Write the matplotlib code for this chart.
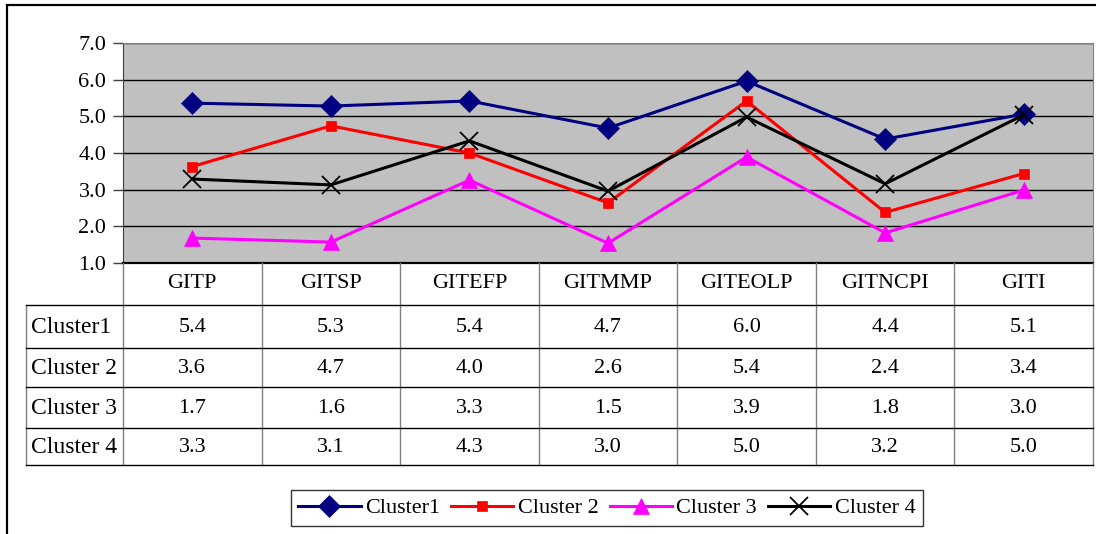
import numpy as np
import matplotlib.pyplot as plt
from matplotlib.lines import Line2D
from matplotlib.patches import Rectangle

plt.rcParams['font.family'] = ['Liberation Serif', 'DejaVu Serif']

categories = ['GITP', 'GITSP', 'GITEFP', 'GITMMP', 'GITEOLP', 'GITNCPI', 'GITI']
series_names = ['Cluster1', 'Cluster 2', 'Cluster 3', 'Cluster 4']
cluster1 = [5.36, 5.28, 5.42, 4.68, 5.96, 4.38, 5.06]
cluster2 = [3.63, 4.74, 4.00, 2.64, 5.42, 2.38, 3.44]
cluster3 = [1.68, 1.57, 3.26, 1.54, 3.89, 1.82, 2.99]
cluster4 = [3.29, 3.13, 4.33, 2.96, 4.98, 3.16, 5.04]
series_values = [cluster1, cluster2, cluster3, cluster4]
y_ticks = [1.0, 2.0, 3.0, 4.0, 5.0, 6.0, 7.0]

colors = ['#000080', '#FF0000', '#FF00FF', '#000000']
markers = ['D', 's', '^', 'x']
msizes = [11, 7, 12, 13]

W, H = 1096, 534
fig = plt.figure(figsize=(W / 100, H / 100), dpi=100)


def fx(x):
    return x / W


def fy(y):
    return 1 - y / H


# outer frame (cut off at right and bottom)
fig.add_artist(Rectangle((fx(7), fy(560)), fx(1120), fy(5) - fy(560), transform=fig.transFigure,
                         fill=False, edgecolor='black', lw=1.6))

x0, x1 = 123, 1093
ytop, ybot = 43, 263
ax = fig.add_axes([fx(x0), fy(ybot), fx(x1 - x0), fy(ytop) - fy(ybot)])
ax.set_facecolor('#C0C0C0')
x = np.arange(len(categories))
for name, vals, c, m, ms in zip(series_names, series_values, colors, markers, msizes):
    ax.plot(x, vals, color=c, lw=2.2, marker=m, ms=ms, mew=1.3 if m == 'x' else 0.5,
            mec=c, label=name, zorder=3)
ax.set_xlim(-0.5, len(categories) - 0.5)
ax.set_ylim(1.0, 7.0)
ax.set_yticks(y_ticks)
ax.set_yticklabels([f'{t:.1f}' for t in y_ticks], fontsize=16)
ax.set_xticks([])
ax.yaxis.grid(True, color='black', lw=1.0)
ax.set_axisbelow(True)
ax.tick_params(axis='y', length=7, width=1, color='#404040', pad=5)
for s in ['top', 'right']:
    ax.spines[s].set_color('#808080')
ax.spines['left'].set_color('#404040')
ax.spines['bottom'].set_color('black')
ax.spines['bottom'].set_linewidth(1.6)

# data table under the chart
colw = (x1 - x0) / len(categories)
row_edges = [263, 305, 348, 387, 428, 465]
lab_x0 = 26


def hline(y, xa, xb, color='black', lw=1.0):
    fig.add_artist(Line2D([fx(xa), fx(xb)], [fy(y), fy(y)], transform=fig.transFigure, color=color, lw=lw))


def vline(xp, ya, yb, color='#808080', lw=1.0):
    fig.add_artist(Line2D([fx(xp), fx(xp)], [fy(ya), fy(yb)], transform=fig.transFigure, color=color, lw=lw))


for i in range(len(categories) + 1):
    vline(x0 + i * colw, row_edges[0], row_edges[-1])
vline(lab_x0, row_edges[1], row_edges[-1])
for y in row_edges[1:]:
    hline(y, lab_x0, x1)

for i, cat in enumerate(categories):
    fig.text(fx(x0 + (i + 0.5) * colw), fy((row_edges[0] + row_edges[1]) / 2), cat,
             ha='center', va='center', fontsize=16)
for r, (name, vals) in enumerate(zip(series_names, series_values)):
    yc = fy((row_edges[r + 1] + row_edges[r + 2]) / 2 + 1)
    fig.text(fx(lab_x0 + 5), yc, name, ha='left', va='center', fontsize=17)
    for i, v in enumerate(vals):
        fig.text(fx(x0 + (i + 0.5) * colw), yc, f'{v:.1f}', ha='center', va='center', fontsize=16)

handles, labels = ax.get_legend_handles_labels()
leg = fig.legend(handles, labels, ncol=4, loc='center', bbox_to_anchor=(fx(607), fy(508)),
                 fontsize=16, frameon=True, fancybox=False, edgecolor='black',
                 handlelength=2.8, handletextpad=0.2, columnspacing=0.5, borderpad=0.35)
leg.get_frame().set_linewidth(1.0)

fig.savefig('out.png', dpi=100)
